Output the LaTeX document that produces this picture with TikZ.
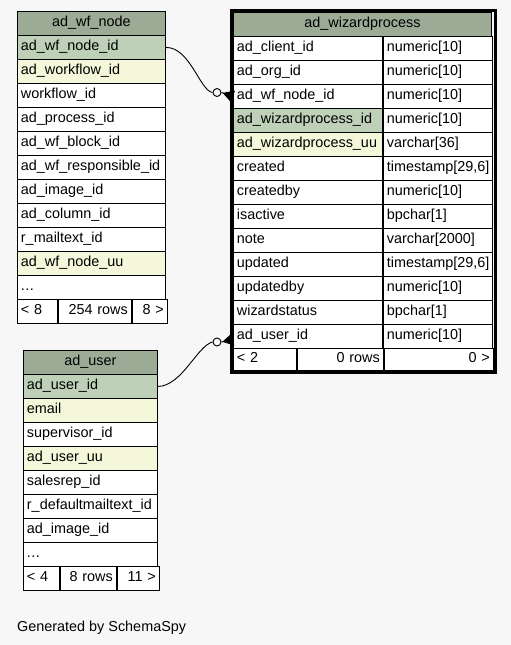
\documentclass[tikz,border=0pt]{standalone}
\usepackage{fontspec}
\setmainfont{Liberation Sans}
\usetikzlibrary{arrows.meta, positioning}
\definecolor{pagegray}{RGB}{247,247,247}
\definecolor{headgreen}{RGB}{155,171,150}
\definecolor{keygreen}{RGB}{190,209,184}
\definecolor{idxyellow}{RGB}{244,247,218}
\newcommand{\rowdots}{.\kern0.5pt.\kern0.5pt.}

\begin{document}
\begin{tikzpicture}[
        x=1pt, y=-1pt,
        cell/.style={rectangle, draw, fill=white, line width=0.9pt, anchor=north west, minimum height=24pt, inner xsep=3.5pt, inner ysep=0pt, text height=10pt, text depth=3pt, align=left, font=\fontsize{14.4}{16}\selectfont},
        head/.style={cell, fill=headgreen, align=center},
        ring/.style={circle, draw, fill=pagegray, line width=0.9pt, minimum size=8pt, inner sep=0pt},
        fk/.style={line width=0.9pt},
        crow/.style={line width=0.9pt, -{Triangle[reversed, length=11pt, width=12pt]}}
    ]
        \fill[pagegray] (0,0) rectangle (511,645);
        \useasboundingbox (0,0) rectangle (511,645);

        % ad_wf_node
        \node[head, text width=141pt] (wfn-h) at (17,11) {ad\_wf\_node};
        \foreach \t/\f [count=\i] in {ad\_wf\_node\_id/keygreen, ad\_workflow\_id/idxyellow, workflow\_id/white, ad\_process\_id/white, ad\_wf\_block\_id/white, ad\_wf\_responsible\_id/white, ad\_image\_id/white, ad\_column\_id/white, r\_mailtext\_id/white, ad\_wf\_node\_uu/idxyellow, \rowdots/white}
            \node[cell, fill=\f, text width=141pt] (wfn-\i) at (17,{11+24*\i}) {\t};
        \node[cell, text width=33pt] (wfn-f1) at (17,299) {< 8};
        \node[cell, text width=66pt, align=right] (wfn-f2) at (wfn-f1.north east) {254 rows};
        \node[cell, text width=28pt, align=right] (wfn-f3) at (wfn-f2.north east) {8 >};

        % ad_wizardprocess
        \node[head, text width=251pt] (wp-h) at (233,12) {ad\_wizardprocess};
        \foreach \c/\t/\f [count=\i] in {ad\_client\_id/numeric[10]/white, ad\_org\_id/numeric[10]/white, ad\_wf\_node\_id/numeric[10]/white, ad\_wizardprocess\_id/numeric[10]/keygreen, ad\_wizardprocess\_uu/varchar[36]/idxyellow, {created/timestamp[29,6]/white}, createdby/numeric[10]/white, isactive/bpchar[1]/white, note/varchar[2000]/white, {updated/timestamp[29,6]/white}, updatedby/numeric[10]/white, wizardstatus/bpchar[1]/white, ad\_user\_id/numeric[10]/white}
        {
            \node[cell, fill=\f, text width=142pt] (wp-\i) at (233,{12+24*\i}) {\c};
            \node[cell, text width=102pt] (wpt-\i) at (wp-\i.north east) {\t};
        }
        \node[cell, text width=56pt, minimum height=22pt] (wp-f1) at (233,348) {< 2};
        \node[cell, text width=79pt, minimum height=22pt, align=right] (wp-f2) at (wp-f1.north east) {0 rows};
        \node[cell, text width=102pt, minimum height=22pt, align=right] (wp-f3) at (wp-f2.north east) {0 >};

        % ad_user
        \node[head, text width=127pt] (user-h) at (23,350) {ad\_user};
        \foreach \t/\f [count=\i] in {ad\_user\_id/keygreen, email/idxyellow, supervisor\_id/white, ad\_user\_uu/idxyellow, salesrep\_id/white, r\_defaultmailtext\_id/white, ad\_image\_id/white, \rowdots/white}
            \node[cell, fill=\f, text width=127pt] (user-\i) at (23,{350+24*\i}) {\t};
        \node[cell, text width=29pt] (user-f1) at (23,566) {< 4};
        \node[cell, text width=49pt, align=right] (user-f2) at (user-f1.north east) {8 rows};
        \node[cell, text width=35pt, align=right] (user-f3) at (user-f2.north east) {11 >};

        % Relations
        \node[ring] (o1) at (217,92.5) {};
        \draw[fk] (wfn-1.east) .. controls (190,47) and (200,91) .. (o1.west);
        \draw[crow] (o1.east) -- (wp-3.west);

        \node[ring] (o2) at (217,342) {};
        \draw[fk] (user-1.east) .. controls (182,386) and (197,346) .. (o2.west);
        \draw[crow] (o2.east) -- ([yshift=-3pt]wp-13.west);

        \draw[line width=3.5pt] ([xshift=-1.75pt, yshift=1.75pt]wp-h.north west) rectangle ([xshift=1.75pt, yshift=-1.75pt]wp-f3.south east);

        \node[anchor=base west, inner sep=0pt, font=\fontsize{14.4}{16}\selectfont] (credit) at (17,631.5) {Generated by SchemaSpy};

    \end{tikzpicture}
\end{document}
